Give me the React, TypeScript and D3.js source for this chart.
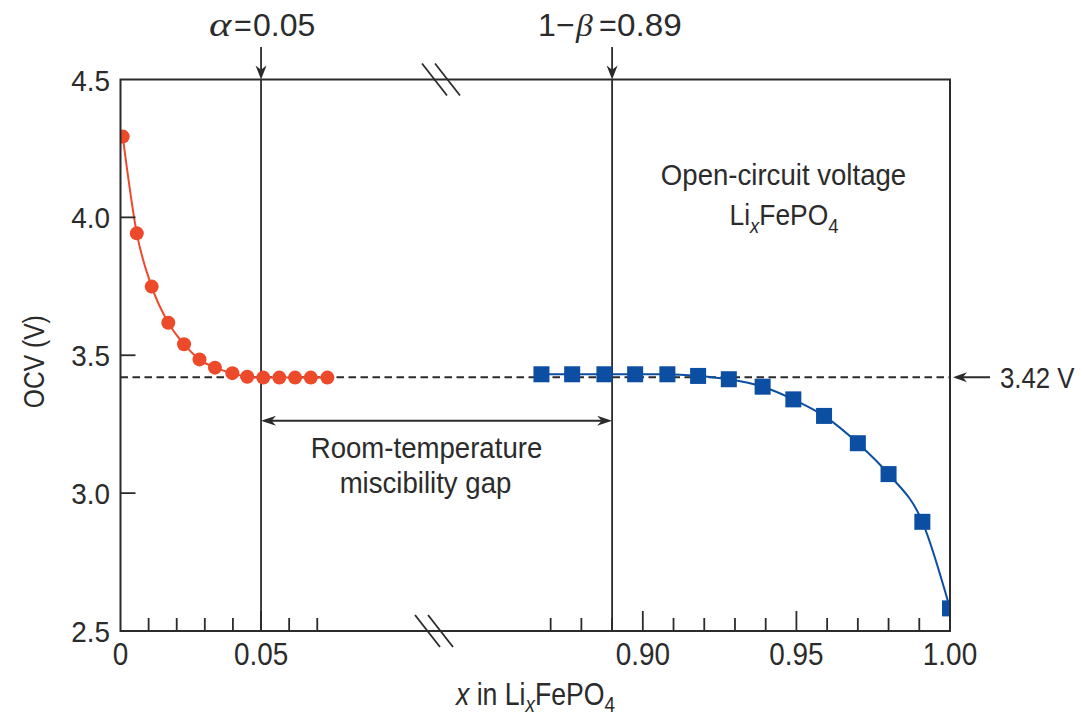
import React from "react";
import * as d3 from "d3";

// Open-circuit voltage of LixFePO4 near the two end members
const lithiumPoorX = [0.0008, 0.0058, 0.0111, 0.017, 0.0226, 0.0281, 0.0336, 0.0398, 0.0451, 0.0508, 0.0565, 0.0621, 0.0677, 0.0736];
const lithiumPoorOCV = [4.293, 3.942, 3.749, 3.618, 3.54, 3.485, 3.455, 3.435, 3.422, 3.419, 3.419, 3.419, 3.419, 3.419];

const lithiumRichX = [0.867, 0.877, 0.8875, 0.8975, 0.908, 0.918, 0.928, 0.939, 0.949, 0.959, 0.97, 0.98, 0.991, 1.0];
const lithiumRichOCV = [3.431, 3.431, 3.431, 3.431, 3.431, 3.425, 3.413, 3.386, 3.34, 3.28, 3.181, 3.069, 2.896, 2.582];

// Solubility limits and the plateau voltage
const alpha = 0.05;
const oneMinusBeta = 0.89;
const plateauV = 3.42;

// Axis ticks
const xLabelTicks = [0, 0.05, 0.9, 0.95, 1.0];
const xLabelText = ["0", "0.05", "0.90", "0.95", "1.00"];
const xMajorTicks = [0.05, 0.9, 0.95];
const xMinorTicks = [0.01, 0.02, 0.03, 0.04, 0.06, 0.07, 0.87, 0.88, 0.89, 0.91, 0.92, 0.93, 0.94, 0.96, 0.97, 0.98, 0.99];
const yLabelTicks = [2.5, 3.0, 3.5, 4.0, 4.5];
const yInnerTicks = [3.0, 3.5, 4.0];

// Broken x axis: the domain jumps from xBreak[0] to xBreak[1]
const xBreak = [0.1126, 0.833];

const W = 1082;
const H = 720;
const left = 120.5;
const right = 950;
const top = 79.5;
const bottom = 631;
const breakPx = 437;

const RED = "#ec4a2a";
const BLUE = "#0b4ea2";
const INK = "#2b2b2b";
const FONT = "'Liberation Sans', Arial, sans-serif";
const SERIF = "'Liberation Serif', 'DejaVu Serif', serif";

// Condensed text: the glyphs are narrowed horizontally around the anchor point
type TProps = {
  x: number;
  y: number;
  anchor?: "start" | "middle" | "end";
  size?: number;
  sx?: number;
  rotate?: number;
  family?: string;
  italic?: boolean;
  children: React.ReactNode;
};
function T({ x, y, anchor = "start", size = 30, sx = 0.88, rotate = 0, family = FONT, italic = false, children }: TProps) {
  return (
    <g transform={`translate(${x},${y}) rotate(${rotate}) scale(${sx},1)`}>
      <text textAnchor={anchor} fontSize={size} fill={INK} fontFamily={family} fontStyle={italic ? "italic" : "normal"}>
        {children}
      </text>
    </g>
  );
}

export default function App() {
  const x = d3.scaleLinear().domain([0, xBreak[0], xBreak[1], 1]).range([left, breakPx, breakPx, right]);
  const y = d3.scaleLinear().domain([2.5, 4.5]).range([bottom, top]);

  const poor = lithiumPoorX.map((v, i) => [v, lithiumPoorOCV[i]] as [number, number]);
  const rich = lithiumRichX.map((v, i) => [v, lithiumRichOCV[i]] as [number, number]);
  const line = d3
    .line<[number, number]>()
    .x((d) => x(d[0]))
    .y((d) => y(d[1]))
    .curve(d3.curveMonotoneX);

  const xa = x(alpha);
  const xb = x(oneMinusBeta);
  const yp = y(plateauV);
  const sq = 16;

  // filled arrowhead pointing along angle (radians), tip at (tx, ty)
  const head = (tx: number, ty: number, ang: number, len = 14, half = 5) => {
    const c = Math.cos(ang), s = Math.sin(ang);
    const bx = tx - c * len, by = ty - s * len;
    const mx = tx - c * len * 0.7, my = ty - s * len * 0.7;
    return `M${tx},${ty}L${bx - s * half},${by + c * half}L${mx},${my}L${bx + s * half},${by - c * half}Z`;
  };

  const breakMark = (cx: number, cy: number) =>
    [-6.5, 6.5].map((o, i) => (
      <line key={i} x1={cx + o - 12.5} y1={cy - 16} x2={cx + o + 12.5} y2={cy + 16} stroke={INK} strokeWidth={1.8} />
    ));

  const annY = 36;
  const annSize = 32;

  return (
    <svg width={W} height={H} style={{ position: "absolute", left: 0, top: 0, background: "#fff" }}>
      <defs>
        <clipPath id="plot">
          <rect x={left} y={top} width={right - left} height={bottom - top} />
        </clipPath>
      </defs>

      {/* plateau */}
      <line x1={left} x2={right} y1={yp} y2={yp} stroke={INK} strokeWidth={2} strokeDasharray="7.5 4.5" />

      {/* solubility limits */}
      <line x1={xa} x2={xa} y1={top} y2={bottom} stroke={INK} strokeWidth={1.8} />
      <line x1={xb} x2={xb} y1={top} y2={bottom} stroke={INK} strokeWidth={1.8} />

      {/* data */}
      <g clipPath="url(#plot)">
        <path d={line(poor) ?? ""} fill="none" stroke={RED} strokeWidth={2} />
        {poor.map((d, i) => (
          <circle key={i} cx={x(d[0])} cy={y(d[1])} r={7} fill={RED} />
        ))}
        <path d={line(rich) ?? ""} fill="none" stroke={BLUE} strokeWidth={2} />
        {rich.map((d, i) => (
          <rect key={i} x={x(d[0]) - sq / 2} y={y(d[1]) - sq / 2} width={sq} height={sq} fill={BLUE} />
        ))}
      </g>

      {/* frame */}
      <rect x={left} y={top} width={right - left} height={bottom - top} fill="none" stroke={INK} strokeWidth={2} />
      {breakMark(breakPx + 4, top)}
      {breakMark(breakPx - 3, bottom)}

      {/* x ticks */}
      {xMinorTicks.map((t) => (
        <line key={"m" + t} x1={x(t)} x2={x(t)} y1={bottom} y2={bottom - 13} stroke={INK} strokeWidth={1.8} />
      ))}
      {xMajorTicks.map((t) => (
        <line key={"M" + t} x1={x(t)} x2={x(t)} y1={bottom} y2={bottom - 20} stroke={INK} strokeWidth={1.8} />
      ))}
      {xLabelTicks.map((t, i) => (
        <T key={"xl" + t} x={x(t)} y={bottom + 34} anchor="middle" size={31} sx={0.9}>
          {xLabelText[i]}
        </T>
      ))}

      {/* y ticks */}
      {yInnerTicks.map((t) => (
        <line key={"y" + t} x1={left} x2={left + 15} y1={y(t)} y2={y(t)} stroke={INK} strokeWidth={1.8} />
      ))}
      {yLabelTicks.map((t) => (
        <T key={"yl" + t} x={left - 10.5} y={y(t) + 11} anchor="end" size={30} sx={0.93}>
          {d3.format(".1f")(t)}
        </T>
      ))}

      {/* axis titles */}
      <T x={535.5} y={705} anchor="middle" size={31} sx={0.86}>
        <tspan fontStyle="italic">x</tspan> in Li
        <tspan fontStyle="italic" fontSize={22} dy={7}>x</tspan>
        <tspan dy={-7}>FePO</tspan>
        <tspan fontSize={22} dy={7}>4</tspan>
      </T>
      <T x={43.5} y={361.7} rotate={-90} anchor="middle" size={30} sx={0.82}>
        OCV (V)
      </T>

      {/* limit annotations */}
      <T x={xa - 52} y={annY} size={34} sx={1.25} family={SERIF} italic>α</T>
      <T x={xa - 27} y={annY} size={annSize} sx={0.95}>=</T>
      <T x={xa - 8} y={annY} size={annSize} sx={1}>{d3.format(".2f")(alpha)}</T>
      <line x1={xa} x2={xa} y1={47} y2={top - 4} stroke={INK} strokeWidth={1.8} />
      <path d={head(xa, top, Math.PI / 2, 14, 5.5)} fill={INK} />

      <T x={xb - 74} y={annY} size={annSize} sx={1}>1−</T>
      <T x={xb - 36} y={annY} size={annSize} sx={1.05} family={SERIF} italic>β</T>
      <T x={xb - 13} y={annY} size={annSize} sx={0.95}>=</T>
      <T x={xb + 5} y={annY} size={annSize} sx={1.04}>{d3.format(".2f")(oneMinusBeta)}</T>
      <line x1={xb} x2={xb} y1={47} y2={top - 4} stroke={INK} strokeWidth={1.8} />
      <path d={head(xb, top, Math.PI / 2, 14, 5.5)} fill={INK} />

      {/* miscibility gap */}
      <line x1={xa + 4} x2={xb - 4} y1={420.7} y2={420.7} stroke={INK} strokeWidth={2} />
      <path d={head(xa, 420.7, Math.PI, 15, 5)} fill={INK} />
      <path d={head(xb, 420.7, 0, 15, 5)} fill={INK} />
      <T x={426.5} y={458} anchor="middle" size={30} sx={0.92}>
        Room-temperature
      </T>
      <T x={425.5} y={493} anchor="middle" size={30} sx={0.92}>
        miscibility gap
      </T>

      {/* caption */}
      <T x={783.5} y={185} anchor="middle" size={30} sx={0.92}>
        Open-circuit voltage
      </T>
      <T x={784} y={225} anchor="middle" size={30} sx={0.88}>
        Li<tspan fontStyle="italic" fontSize={21} dy={8}>x</tspan>
        <tspan dy={-8}>FePO</tspan>
        <tspan fontSize={21} dy={8}>4</tspan>
      </T>

      {/* plateau callout */}
      <line x1={right + 6} x2={990} y1={yp} y2={yp} stroke={INK} strokeWidth={2} />
      <path d={head(right + 3, yp, Math.PI, 14, 5)} fill={INK} />
      <T x={1000} y={yp + 11} size={30} sx={0.86}>
        {plateauV.toFixed(2)} V
      </T>
    </svg>
  );
}
